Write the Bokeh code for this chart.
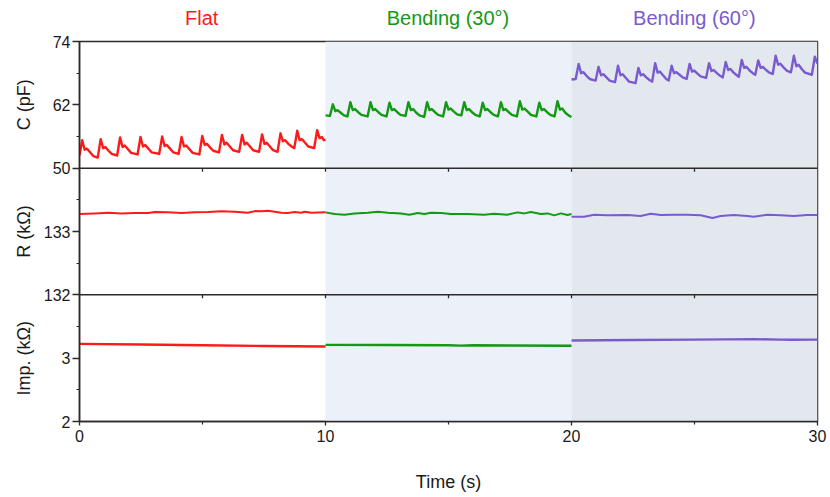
from math import pi
from bokeh.plotting import figure
from bokeh.layouts import column, row
from bokeh.models import Range1d, FixedTicker, BoxAnnotation, Span, Label
from bokeh.embed import file_html
from bokeh.resources import INLINE

# ---------------- data ----------------
segments = ["Flat", "Bending (30°)", "Bending (60°)"]
seg_bounds = [0, 10, 20, 30]
seg_colors = ["#FF1A1A", "#129A12", "#7A5BCF"]
band_colors = [None, "#ECF1F9", "#E3E8EE"]

x_ticks = [0, 10, 20, 30]
x_minor = [5, 15, 25]

c_lim = (50, 74)
c_ticks = [50, 62, 74]
c_minor = [56, 68]
r_lim = (132, 134)
r_ticks = [132, 133]
r_minor = [132.5, 133.5]
imp_lim = (2, 4)
imp_ticks = [2, 3]
imp_minor = [2.5, 3.5]

y_titles = ["C (pF)", "R (kΩ)", "Imp. (kΩ)"]

# Capacitance (pF)
c_flat_t = [0.00, 0.11, 0.21, 0.30, 0.43, 0.56, 0.74,
            0.86, 0.96, 1.05, 1.18, 1.31, 1.53,
            1.65, 1.75, 1.84, 1.97, 2.10, 2.36,
            2.48, 2.58, 2.67, 2.80, 2.93, 3.24,
            3.36, 3.46, 3.55, 3.68, 3.81, 4.03,
            4.15, 4.25, 4.34, 4.47, 4.60, 4.87,
            4.99, 5.09, 5.18, 5.31, 5.44, 5.67,
            5.79, 5.89, 5.98, 6.11, 6.24, 6.49,
            6.61, 6.71, 6.80, 6.93, 7.06, 7.30,
            7.42, 7.52, 7.61, 7.74, 7.87, 8.05,
            8.17, 8.27, 8.36, 8.49, 8.62, 8.73,
            8.85, 8.95, 9.04, 9.17, 9.30, 9.54,
            9.66, 9.76, 9.85, 9.93, 10.00]
c_flat = [52.4, 55.3, 53.5, 53.7, 53.0, 52.3, 52.0,
          55.5, 53.8, 54.0, 53.3, 52.7, 52.4,
          55.8, 54.0, 54.3, 53.6, 52.9, 52.6,
          55.9, 54.1, 54.4, 53.7, 53.0, 52.7,
          56.0, 54.2, 54.4, 53.7, 53.0, 52.7,
          55.9, 54.1, 54.3, 53.6, 52.9, 52.6,
          56.1, 54.4, 54.6, 53.9, 53.3, 53.0,
          56.3, 54.5, 54.8, 54.1, 53.4, 53.1,
          56.3, 54.5, 54.8, 54.1, 53.4, 53.1,
          56.4, 54.6, 54.8, 54.1, 53.4, 53.1,
          56.6, 55.1, 55.3, 54.6, 54.1, 53.8,
          57.1, 55.3, 55.5, 54.8, 54.1, 53.8,
          57.2, 55.7, 55.9, 55.3, 55.4]

c_b30_t = [10.00, 10.18, 10.30, 10.40, 10.49, 10.62, 10.75, 10.89,
           11.01, 11.11, 11.20, 11.33, 11.46, 11.71,
           11.83, 11.93, 12.02, 12.15, 12.28, 12.48,
           12.60, 12.70, 12.79, 12.92, 13.05, 13.25,
           13.37, 13.47, 13.56, 13.69, 13.82, 14.01,
           14.13, 14.23, 14.32, 14.45, 14.58, 14.78,
           14.90, 15.00, 15.09, 15.22, 15.35, 15.52,
           15.64, 15.74, 15.83, 15.96, 16.09, 16.27,
           16.39, 16.49, 16.58, 16.71, 16.84, 17.01,
           17.13, 17.23, 17.32, 17.45, 17.58, 17.78,
           17.90, 18.00, 18.09, 18.22, 18.35, 18.57,
           18.69, 18.79, 18.88, 19.01, 19.14, 19.31,
           19.43, 19.53, 19.62, 19.75, 19.88, 20.00]
c_b30 = [60.0, 59.9, 62.1, 60.8, 61.0, 60.5, 60.0, 59.8,
         62.5, 61.0, 61.2, 60.6, 60.1, 59.8,
         62.5, 61.0, 61.2, 60.6, 60.1, 59.8,
         62.4, 61.0, 61.2, 60.6, 60.1, 59.9,
         62.5, 61.0, 61.2, 60.5, 60.0, 59.7,
         62.5, 61.0, 61.2, 60.6, 60.1, 59.8,
         62.5, 61.1, 61.3, 60.7, 60.2, 60.0,
         62.5, 61.0, 61.2, 60.6, 60.1, 59.8,
         62.4, 61.0, 61.2, 60.6, 60.1, 59.8,
         62.5, 61.0, 61.2, 60.6, 60.1, 59.8,
         62.7, 61.1, 61.3, 60.7, 60.1, 59.8,
         62.4, 61.0, 61.2, 60.6, 60.1, 59.8,
         62.7, 61.1, 61.3, 60.5, 60.0, 59.7]

c_b60_t = [20.00, 20.17, 20.29, 20.39, 20.48, 20.61, 20.74, 20.98,
           21.10, 21.20, 21.29, 21.42, 21.55, 21.77,
           21.89, 21.99, 22.08, 22.21, 22.34, 22.60,
           22.72, 22.82, 22.91, 23.04, 23.17, 23.28,
           23.40, 23.50, 23.59, 23.72, 23.85, 23.95,
           24.07, 24.17, 24.26, 24.39, 24.52, 24.68,
           24.80, 24.90, 24.99, 25.12, 25.25, 25.47,
           25.59, 25.69, 25.78, 25.91, 26.04, 26.15,
           26.27, 26.37, 26.46, 26.59, 26.72, 26.80,
           26.92, 27.02, 27.11, 27.24, 27.37, 27.47,
           27.59, 27.69, 27.78, 27.91, 28.04, 28.18,
           28.30, 28.40, 28.49, 28.62, 28.75, 28.92,
           29.04, 29.14, 29.23, 29.36, 29.49, 29.77,
           29.89, 30.00]
c_b60 = [66.8, 66.9, 69.75, 68.0, 68.2, 67.5, 66.9, 66.6,
         69.2, 67.6, 67.8, 67.2, 66.6, 66.3,
         69.4, 67.6, 67.8, 67.1, 66.4, 66.1,
         69.0, 67.6, 67.8, 67.2, 66.7, 66.4,
         69.9, 68.1, 68.3, 67.6, 66.9, 66.6,
         69.4, 68.0, 68.2, 67.7, 67.2, 66.9,
         69.75, 68.3, 68.5, 67.9, 67.4, 67.1,
         69.9, 68.4, 68.6, 68.0, 67.5, 67.2,
         70.1, 68.6, 68.8, 68.1, 67.6, 67.3,
         70.5, 69.0, 69.2, 68.5, 68.0, 67.7,
         70.4, 69.0, 69.2, 68.6, 68.1, 67.85,
         71.3, 69.6, 69.8, 69.1, 68.5, 68.15,
         71.3, 69.3, 69.6, 68.8, 68.1, 67.7,
         71.1, 69.8]

# Resistance (kOhm)
r_flat_t = [0.00, 0.62, 1.16, 1.70, 2.25, 2.79, 3.06, 3.60, 4.14, 4.68, 5.22,
            5.76, 6.31, 6.85, 7.12, 7.39, 7.66, 7.93, 8.20, 8.47, 8.74, 9.01,
            9.15, 9.42, 10.00]
r_flat = [133.276, 133.286, 133.297, 133.286, 133.292, 133.292, 133.307,
          133.302, 133.292, 133.302, 133.307, 133.318, 133.312, 133.297,
          133.322, 133.318, 133.328, 133.312, 133.297, 133.292, 133.307,
          133.297, 133.312, 133.297, 133.302]
r_b30_t = [10.00, 10.37, 10.77, 11.18, 11.72, 12.13, 12.53, 13.07, 13.41,
           13.75, 14.02, 14.29, 14.70, 15.10, 15.78, 16.45, 16.86, 17.40,
           17.81, 18.08, 18.35, 18.76, 19.03, 19.30, 19.57, 19.84, 20.00]
r_b30 = [133.302, 133.276, 133.266, 133.286, 133.297, 133.312, 133.297,
         133.286, 133.266, 133.292, 133.276, 133.297, 133.292, 133.276,
         133.276, 133.266, 133.281, 133.266, 133.302, 133.286, 133.307,
         133.276, 133.286, 133.255, 133.286, 133.260, 133.276]
r_b60_t = [20.00, 20.51, 20.92, 21.46, 22.27, 22.81, 23.22, 23.63, 24.17,
           24.71, 25.25, 25.73, 26.06, 26.60, 27.15, 27.41, 27.96, 28.50,
           29.04, 29.58, 30.00]
r_b60 = [133.234, 133.234, 133.266, 133.255, 133.260, 133.245, 133.281,
         133.260, 133.266, 133.266, 133.255, 133.214, 133.245, 133.260,
         133.245, 133.234, 133.266, 133.255, 133.245, 133.260, 133.260]

# Impedance (kOhm)
imp_flat_t = [0.0, 2.5, 5.0, 7.5, 10.0]
imp_flat = [3.226, 3.215, 3.205, 3.192, 3.184]
imp_b30_t = [10.0, 12.5, 15.0, 15.5, 16.0, 17.5, 20.0]
imp_b30 = [3.210, 3.207, 3.203, 3.198, 3.204, 3.200, 3.197]
imp_b60_t = [20.0, 22.5, 25.0, 27.5, 28.5, 29.0, 30.0]
imp_b60 = [3.280, 3.288, 3.293, 3.300, 3.292, 3.290, 3.292]

# ---------------- layout / styling ----------------
FONT = "Liberation Sans"
AX = "#2b2b2b"
TXT = "#1a1a1a"
N_PANELS = 3
FRAME_W, FRAME_H = 739, 380
TITLE_H = 31          # strip holding the coloured segment titles
LABEL_W = 40          # strip holding the rotated y titles
LEFT_B, RIGHT_B, TOP_B, BOTTOM_B = 38, 13, 10, 76

def stacked_range(lim, slot):
    span = lim[1] - lim[0]
    return Range1d(lim[0] - (N_PANELS - 1 - slot) * span, lim[1] + slot * span)

c_rng = stacked_range(c_lim, 0)
r_rng = stacked_range(r_lim, 1)
i_rng = stacked_range(imp_lim, 2)
x_rng = Range1d(seg_bounds[0], seg_bounds[-1])

def to_main(v, rng):
    return round(c_rng.start + (v - rng.start) * (c_rng.end - c_rng.start) / (rng.end - rng.start), 6)

def bare(fig):
    fig.xgrid.visible = False
    fig.ygrid.visible = False
    fig.outline_line_color = None
    fig.background_fill_color = "white"
    fig.border_fill_color = "white"
    return fig

# ---- main plot ----
p = figure(width=LEFT_B + FRAME_W + RIGHT_B, height=TOP_B + FRAME_H + BOTTOM_B,
           x_range=x_rng, y_range=c_rng, output_backend="svg", toolbar_location=None,
           min_border_left=LEFT_B, min_border_right=RIGHT_B, min_border_top=TOP_B,
           min_border_bottom=BOTTOM_B)
p.extra_y_ranges = {"R": r_rng, "Imp": i_rng}
bare(p)
p.outline_line_color = AX
p.outline_line_width = 1.5

for (a, b), col in zip(zip(seg_bounds[:-1], seg_bounds[1:]), band_colors):
    if col:
        p.add_layout(BoxAnnotation(left=a, right=b, fill_color=col, fill_alpha=1,
                                   line_color=None, level="underlay"))

seps = [c_lim[0], to_main(r_lim[0], r_rng)]
for s in seps:
    p.add_layout(Span(location=s, dimension="width", line_color=AX, line_width=1.5))
tick_dy = 3.5 * (c_rng.end - c_rng.start) / FRAME_H
inner_x = [t for t in sorted(x_ticks + x_minor) if seg_bounds[0] < t < seg_bounds[-1]]
for s in seps:
    p.segment(x0=inner_x, y0=[s] * len(inner_x), x1=inner_x, y1=[s - tick_dy] * len(inner_x),
              line_color=AX, line_width=1.3)

series = [
    (c_flat_t, c_flat, "default"), (c_b30_t, c_b30, "default"), (c_b60_t, c_b60, "default"),
    (r_flat_t, r_flat, "R"), (r_b30_t, r_b30, "R"), (r_b60_t, r_b60, "R"),
    (imp_flat_t, imp_flat, "Imp"), (imp_b30_t, imp_b30, "Imp"), (imp_b60_t, imp_b60, "Imp"),
]
for k, (xs, ys, rn) in enumerate(series):
    col = seg_colors[k % 3]
    lw = 2.4 if rn != "R" else 2.0
    p.line(xs, ys, line_color=col, line_width=lw, y_range_name=rn, line_join="round")

majors, minors, overrides = [], [], {}
for ticks, mins, rng in [(c_ticks, c_minor, c_rng), (r_ticks, r_minor, r_rng),
                         (imp_ticks, imp_minor, i_rng)]:
    for t in ticks:
        pos = to_main(t, rng)
        majors.append(pos)
        overrides[pos] = f"{t:g}"
    for t in mins:
        minors.append(to_main(t, rng))

ya = p.yaxis[0]
ya.ticker = FixedTicker(ticks=majors, minor_ticks=minors)
ya.major_label_overrides = overrides
ya.major_tick_out = 7
ya.major_tick_in = 0
ya.minor_tick_out = 3
ya.minor_tick_in = 0
ya.major_label_standoff = 2

xa = p.xaxis[0]
xa.ticker = FixedTicker(ticks=x_ticks, minor_ticks=x_minor)
xa.major_tick_out = 4
xa.major_tick_in = 0
xa.minor_tick_out = 3
xa.minor_tick_in = 0
xa.major_label_standoff = 4
xa.axis_label = "Time (s)"
xa.axis_label_standoff = 27
xa.axis_label_text_font_style = "normal"
xa.axis_label_text_font_size = "18px"
xa.axis_label_text_font = FONT
xa.axis_label_text_color = TXT

for ax in (xa, ya):
    ax.axis_line_color = AX
    ax.axis_line_width = 1.5
    ax.major_tick_line_color = AX
    ax.major_tick_line_width = 1.3
    ax.minor_tick_line_color = AX
    ax.minor_tick_line_width = 1.2
    ax.major_label_text_font = FONT
    ax.major_label_text_font_size = "16px"
    ax.major_label_text_color = TXT

# ---- strip with the segment titles (shares the time axis) ----
ts = figure(width=LABEL_W + LEFT_B + FRAME_W + RIGHT_B, height=TITLE_H, x_range=x_rng,
            y_range=Range1d(0, 1), output_backend="svg", toolbar_location=None,
            x_axis_type=None, y_axis_type=None,
            min_border_left=LABEL_W + LEFT_B, min_border_right=RIGHT_B,
            min_border_top=0, min_border_bottom=0)
bare(ts)
for (a, b), name, col in zip(zip(seg_bounds[:-1], seg_bounds[1:]), segments, seg_colors):
    ts.add_layout(Label(x=(a + b) / 2, y=0.5, y_offset=-1.5, text=name,
                        text_align="center", text_baseline="middle", text_font=FONT,
                        text_font_size="20px", text_color=col))

# ---- strip with the rotated y titles (shares the stacked y ranges) ----
ls = figure(width=LABEL_W, height=TOP_B + FRAME_H + BOTTOM_B, x_range=Range1d(0, 1),
            y_range=c_rng, output_backend="svg", toolbar_location=None,
            x_axis_type=None, y_axis_type=None,
            min_border_left=0, min_border_right=0, min_border_top=TOP_B,
            min_border_bottom=BOTTOM_B)
ls.extra_y_ranges = {"R": r_rng, "Imp": i_rng}
bare(ls)
for text, lim, rn in zip(y_titles, [c_lim, r_lim, imp_lim], ["default", "R", "Imp"]):
    ls.add_layout(Label(x=0.5, y=(lim[0] + lim[1]) / 2, y_range_name=rn, x_offset=3.5,
                        angle=pi / 2, text=text, text_align="center",
                        text_baseline="middle", text_font=FONT,
                        text_font_size="18px", text_color=TXT))

layout = column(ts, row(ls, p, spacing=0), spacing=0)
open("out.html", "w").write(file_html(layout, INLINE))
